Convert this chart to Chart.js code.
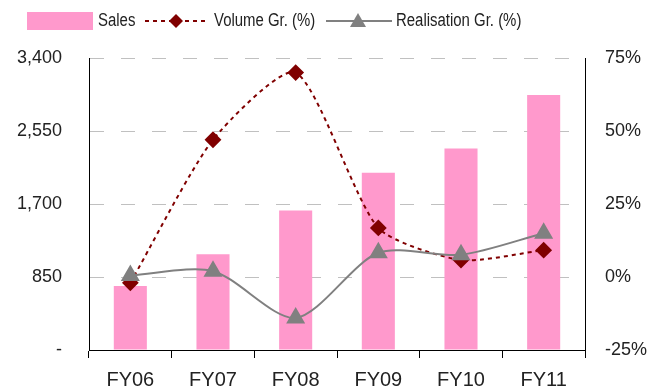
<!DOCTYPE html>
<html>
<head>
<meta charset="utf-8">
<script src="https://cdn.jsdelivr.net/npm/chart.js@4/dist/chart.umd.min.js"></script>
<style>
  body { margin: 0; background: #fff; }
  canvas { display: block; }
</style>
</head>
<body>
<canvas id="chart" width="647" height="388"></canvas>
<script>
// data
const years = ["FY06", "FY07", "FY08", "FY09", "FY10", "FY11"];
const sales = [745, 1115, 1625, 2065, 2345, 2970];
const volumeGr = [-2, 47, 70, 16.8, 5.8, 9.2];
const realisationGr = [0.5, 2, -14, 8.3, 7.6, 15];
const salesTicks = [0, 850, 1700, 2550, 3400];
const pctTicks = [-25, 0, 25, 50, 75];

const tickFont = { family: "'Liberation Sans', Arial, sans-serif", size: 18 };
const xFont = { family: "'Liberation Sans', Arial, sans-serif", size: 20 };
const legendFont = "18px 'Liberation Sans', Arial, sans-serif";

// narrow text for the legend
function narrowText(ctx, text, x, y) {
	ctx.save();
	ctx.translate(x, y);
	ctx.scale(0.83, 1);
	ctx.fillText(text, 0, 0);
	ctx.restore();
}

// legend drawn on the canvas
const topLegend = {
	id: "topLegend",
	afterDraw(chart) {
		const ctx = chart.ctx;
		ctx.save();
		ctx.font = legendFont;
		ctx.textBaseline = "middle";
		const y = 21;

		// sales box
		ctx.fillStyle = "#FF99CC";
		ctx.fillRect(27, 12, 66, 18);
		ctx.fillStyle = "#222";
		narrowText(ctx, "Sales", 98, y);

		// volume
		ctx.strokeStyle = "#800000";
		ctx.lineWidth = 2;
		ctx.setLineDash([4, 4]);
		ctx.beginPath();
		ctx.moveTo(145, y);
		ctx.lineTo(205, y);
		ctx.stroke();
		ctx.setLineDash([]);
		ctx.fillStyle = "#800000";
		ctx.beginPath();
		ctx.moveTo(176, y - 7);
		ctx.lineTo(183, y);
		ctx.lineTo(176, y + 7);
		ctx.lineTo(169, y);
		ctx.closePath();
		ctx.fill();
		ctx.fillStyle = "#222";
		narrowText(ctx, "Volume Gr. (%)", 214, y);

		// realisation
		ctx.strokeStyle = "#808080";
		ctx.beginPath();
		ctx.moveTo(326, y);
		ctx.lineTo(392, y);
		ctx.stroke();
		ctx.fillStyle = "#808080";
		ctx.beginPath();
		ctx.moveTo(358, y - 8);
		ctx.lineTo(366, y + 6);
		ctx.lineTo(350, y + 6);
		ctx.closePath();
		ctx.fill();
		ctx.fillStyle = "#222";
		narrowText(ctx, "Realisation Gr. (%)", 396, y);
		ctx.restore();
	},
};

const ctx = document.getElementById("chart").getContext("2d");

new Chart(ctx, {
	type: "bar",
	data: {
		labels: years,
		datasets: [
			{
				type: "line",
				label: "Volume Gr. (%)",
				data: volumeGr,
				yAxisID: "y1",
				borderColor: "#800000",
				backgroundColor: "#800000",
				borderWidth: 2,
				borderDash: [4, 4],
				tension: 0.22,
				pointStyle: "rectRot",
				pointRadius: 7,
				pointHoverRadius: 7,
				order: 2,
			},
			{
				type: "line",
				label: "Realisation Gr. (%)",
				data: realisationGr,
				yAxisID: "y1",
				borderColor: "#808080",
				backgroundColor: "#808080",
				borderWidth: 2,
				tension: 0.28,
				pointStyle: "triangle",
				pointRadius: 9,
				pointHoverRadius: 9,
				order: 1,
			},
			{
				label: "Sales",
				data: sales,
				yAxisID: "y",
				backgroundColor: "#FF99CC",
				categoryPercentage: 1,
				barPercentage: 0.4,
				order: 3,
			},
		],
	},
	options: {
		responsive: false,
		animation: false,
		devicePixelRatio: 1,
		layout: { padding: { top: 58, left: 0, right: 0, bottom: 0 } },
		plugins: {
			legend: { display: false },
			tooltip: { enabled: false },
		},
		scales: {
			x: {
				offset: true,
				grid: {
					offset: true,
					drawOnChartArea: false,
					drawTicks: true,
					tickLength: 8,
					color: "#000",
				},
				border: { color: "#000", width: 1 },
				ticks: { font: xFont, color: "#222", padding: 10 },
				afterFit(axis) {
					axis.height = 38;
				},
			},
			y: {
				position: "left",
				min: 0,
				max: 3400,
				afterBuildTicks(axis) {
					axis.ticks = salesTicks.map((v) => ({ value: v }));
				},
				grid: {
					color: "#c0c0c0",
					drawTicks: false,
				},
				border: { color: "#000", width: 1, dash: [14, 17] },
				ticks: {
					font: tickFont,
					color: "#222",
					padding: 27,
					callback: (v) => (v === 0 ? "-" : v.toLocaleString("en-US")),
				},
				afterFit(axis) {
					axis.width = 89;
				},
			},
			y1: {
				position: "right",
				min: -25,
				max: 75,
				afterBuildTicks(axis) {
					axis.ticks = pctTicks.map((v) => ({ value: v }));
				},
				grid: { drawOnChartArea: false, drawTicks: false },
				border: { color: "#000", width: 1 },
				ticks: {
					font: tickFont,
					color: "#222",
					padding: 20,
					callback: (v) => v + "%",
				},
				afterFit(axis) {
					axis.width = 62;
				},
			},
		},
	},
	plugins: [topLegend],
});
</script>
</body>
</html>
